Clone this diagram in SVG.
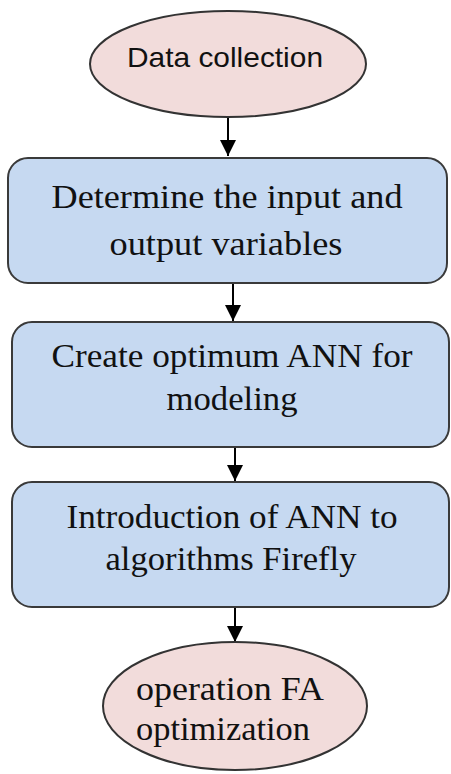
<svg xmlns="http://www.w3.org/2000/svg" width="451" height="774" viewBox="0 0 451 774">
<defs>
<marker id="ah" markerWidth="16" markerHeight="16" refX="16" refY="8" orient="auto" markerUnits="userSpaceOnUse" viewBox="0 0 16 16">
<path d="M0,0 L16,8 L0,16 Z" fill="#000"/>
</marker>
</defs>
<style>
.ell{fill:#f2dcdb;stroke:#333;stroke-width:2}
.box{fill:#c6d9f1;stroke:#3a3a3a;stroke-width:2}
.sans{font-family:"Liberation Sans",Arial,sans-serif;font-size:28px;fill:#111}
.ser{font-family:"Liberation Serif","Times New Roman",serif;font-size:33px;fill:#111}
.con{stroke:#000;stroke-width:2;fill:none}
</style>
<rect width="451" height="774" fill="#fff"/>
<g id="connectors">
<line class="con" x1="228" y1="117" x2="228" y2="156" marker-end="url(#ah)"/>
<line class="con" x1="233" y1="283" x2="233" y2="321" marker-end="url(#ah)"/>
<line class="con" x1="235" y1="447" x2="235" y2="481" marker-end="url(#ah)"/>
<line class="con" x1="235" y1="607" x2="235" y2="642" marker-end="url(#ah)"/>
</g>
<g id="n1">
<ellipse class="ell" cx="228" cy="64" rx="138" ry="53"/>
<text class="sans" x="225" y="67" text-anchor="middle" textLength="196" lengthAdjust="spacingAndGlyphs">Data collection</text>
</g>
<g id="n2">
<rect class="box" x="8" y="158" width="439" height="125" rx="20"/>
<text class="ser" x="227" y="208" text-anchor="middle" textLength="351" lengthAdjust="spacingAndGlyphs">Determine the input and</text>
<text class="ser" x="226" y="255" text-anchor="middle" textLength="233" lengthAdjust="spacingAndGlyphs">output variables</text>
</g>
<g id="n3">
<rect class="box" x="12" y="322" width="437" height="125" rx="20"/>
<text class="ser" x="232" y="367" text-anchor="middle" textLength="361" lengthAdjust="spacingAndGlyphs">Create optimum ANN for</text>
<text class="ser" x="232" y="410" text-anchor="middle" textLength="131" lengthAdjust="spacingAndGlyphs">modeling</text>
</g>
<g id="n4">
<rect class="box" x="12" y="482" width="437" height="125" rx="20"/>
<text class="ser" x="232" y="528" text-anchor="middle" textLength="331" lengthAdjust="spacingAndGlyphs">Introduction of ANN to</text>
<text class="ser" x="231" y="570" text-anchor="middle" textLength="251" lengthAdjust="spacingAndGlyphs">algorithms Firefly</text>
</g>
<g id="n5">
<ellipse class="ell" cx="235" cy="706" rx="132" ry="64"/>
<text class="ser" x="136" y="700" textLength="188" lengthAdjust="spacingAndGlyphs">operation FA</text>
<text class="ser" x="136" y="740" textLength="174" lengthAdjust="spacingAndGlyphs">optimization</text>
</g>
</svg>
